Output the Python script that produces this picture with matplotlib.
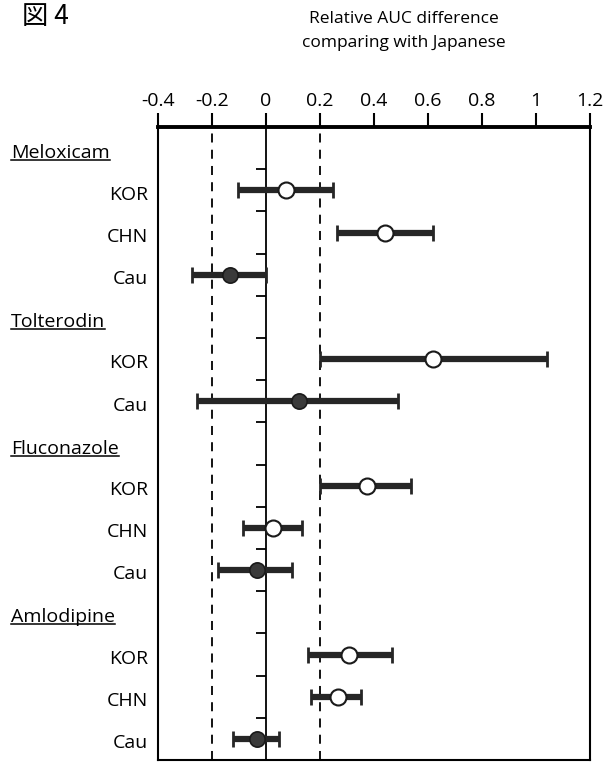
import numpy as np
import matplotlib.pyplot as plt
import matplotlib.transforms as mtransforms

plt.rcParams['font.family'] = ['Open Sans', 'Noto Sans CJK JP', 'DejaVu Sans']

# filas: encabezado del fármaco (sin dato) y poblaciones
rows = ['Meloxicam', 'KOR', 'CHN', 'Cau',
        'Tolterodin', 'KOR', 'Cau',
        'Fluconazole', 'KOR', 'CHN', 'Cau',
        'Amlodipine', 'KOR', 'CHN', 'Cau']
drugs = ['Meloxicam', 'Tolterodin', 'Fluconazole', 'Amlodipine']

# valores (nan = fila de encabezado)
center = [np.nan, 0.074, 0.44, -0.135,
          np.nan, 0.62, 0.122,
          np.nan, 0.373, 0.027, -0.035,
          np.nan, 0.307, 0.265, -0.035]
low = [np.nan, -0.104, 0.263, -0.274,
       np.nan, 0.20, -0.255,
       np.nan, 0.20, -0.084, -0.176,
       np.nan, 0.155, 0.167, -0.123]
high = [np.nan, 0.248, 0.618, 0.0,
        np.nan, 1.04, 0.49,
        np.nan, 0.537, 0.132, 0.095,
        np.nan, 0.465, 0.352, 0.047]

xticks = [-0.4, -0.2, 0, 0.2, 0.4, 0.6, 0.8, 1, 1.2]
xticklabels = ['-0.4', '-0.2', '0', '0.2', '0.4', '0.6', '0.8', '1', '1.2']

center = np.array(center)
low = np.array(low)
high = np.array(high)
y = np.arange(len(rows))

fig = plt.figure(figsize=(6.09, 7.63), dpi=100)
ax = fig.add_axes([158/609, 3/763, 432/609, 633/763])

# lineas de referencia
ax.axvline(-0.2, color='black', ls=(0, (5, 4)), lw=1.3)
ax.axvline(0.2, color='black', ls=(0, (5, 4)), lw=1.3)

# barras de error y puntos
for i in range(len(rows)):
    if np.isnan(center[i]):
        continue
    ax.errorbar(center[i], y[i],
                xerr=[[center[i] - low[i]], [high[i] - center[i]]],
                fmt='none', ecolor='#262626', elinewidth=4.5,
                capsize=5.5, capthick=2, zorder=3)
    if rows[i] == 'Cau':
        ax.plot(center[i], y[i], 'o', ms=11, mfc='#3a3a3a',
                mec='#1a1a1a', mew=1.2, zorder=4)
    else:
        ax.plot(center[i], y[i], 'o', ms=11.5, mfc='white',
                mec='#1a1a1a', mew=1.5, zorder=4)

ax.set_xlim(-0.4, 1.2)
ax.set_ylim(len(rows) - 0.5, -0.5)

# eje x arriba
ax.xaxis.tick_top()
ax.set_xticks(xticks)
ax.set_xticklabels(xticklabels, fontsize=14)
ax.tick_params(axis='x', direction='out', length=10, width=1.5, pad=2)
ax.set_yticks([])

for s in ['left', 'right', 'bottom']:
    ax.spines[s].set_linewidth(1.5)
ax.spines['top'].set_linewidth(2.8)

# eje vertical en x=0 con marcas entre filas
sec = ax.secondary_yaxis(0.25)
sec.set_yticks(np.arange(0.5, len(rows) - 1, 1))
sec.set_yticklabels([])
sec.tick_params(direction='out', length=7, width=1.3)
sec.spines['left'].set_linewidth(1.3)

# etiquetas de filas
trans = mtransforms.blended_transform_factory(fig.transFigure, ax.transData)
heads = []
for i, r in enumerate(rows):
    if r in drugs:
        heads.append(ax.text(11/609, y[i] + 0.12, r, transform=trans,
                             fontsize=14, ha='left', va='center'))
    else:
        ax.text(-0.437, y[i] + 0.1, r, fontsize=14, ha='right', va='center')

# subrayado de los encabezados
fig.canvas.draw()
for t in heads:
    bb = t.get_window_extent()
    fig.add_artist(plt.Line2D([bb.x0 / fig.dpi / 6.09, bb.x1 / fig.dpi / 6.09],
                              [(bb.y0 + 2) / fig.dpi / 7.63] * 2,
                              color='black', lw=1.1))

fig.text(404/609, 1 - 31/763, 'Relative AUC difference\ncomparing with Japanese',
         ha='center', va='center', fontsize=12.5, linespacing=1.6)
fig.text(22/609, 1 - 16/763, '図 4', ha='left', va='center', fontsize=19,
         family=['Noto Sans CJK JP', 'DejaVu Sans'])

fig.savefig('out.png', dpi=100)
